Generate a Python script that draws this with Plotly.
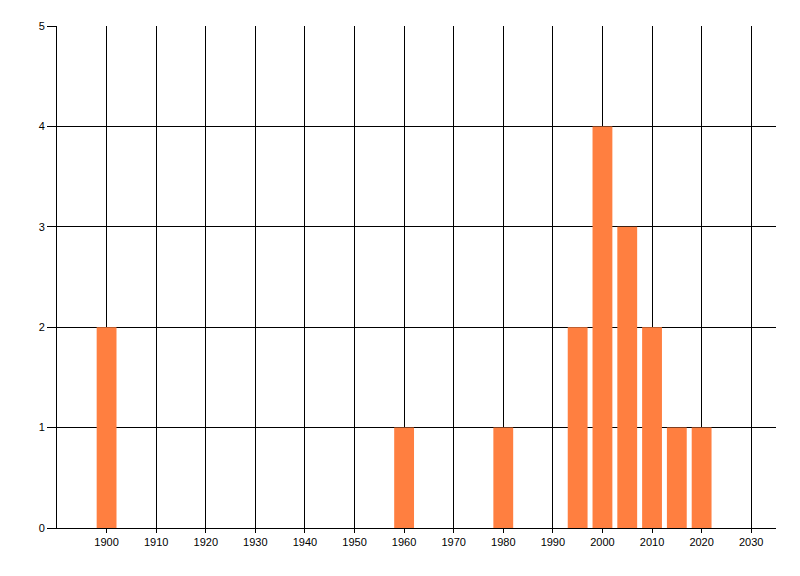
import plotly.graph_objects as go

# counts per year bucket
years = [1900, 1960, 1980, 1995, 2000, 2005, 2010, 2015, 2020]
counts = [2, 1, 1, 2, 4, 3, 2, 1, 1]
x_ticks = list(range(1900, 2031, 10))
y_ticks = [0, 1, 2, 3, 4, 5]

fig = go.Figure(
    go.Bar(
        x=years,
        y=counts,
        width=4,
        marker=dict(color="#ff7f40", line=dict(width=0)),
    )
)

# page body adds ~8px offset, so margins are shifted to compensate
fig.update_layout(
    width=800,
    height=576,
    paper_bgcolor="white",
    plot_bgcolor="white",
    showlegend=False,
    margin=dict(l=49, r=32, t=18, b=56),
    font=dict(family="Liberation Sans, Arial, sans-serif", size=11, color="black"),
    xaxis=dict(
        range=[1890, 2035],
        tickvals=x_ticks,
        ticktext=[str(v) for v in x_ticks],
        showgrid=True,
        gridcolor="black",
        gridwidth=1,
        showline=True,
        linecolor="black",
        linewidth=1,
        ticks="outside",
        ticklen=4,
        tickcolor="black",
        zeroline=False,
    ),
    yaxis=dict(
        range=[0, 5],
        tickvals=y_ticks,
        showgrid=True,
        gridcolor="black",
        gridwidth=1,
        showline=True,
        linecolor="black",
        linewidth=1,
        ticks="outside",
        ticklen=9,
        tickcolor="black",
        zeroline=False,
    ),
)

fig.write_html("out.html")
